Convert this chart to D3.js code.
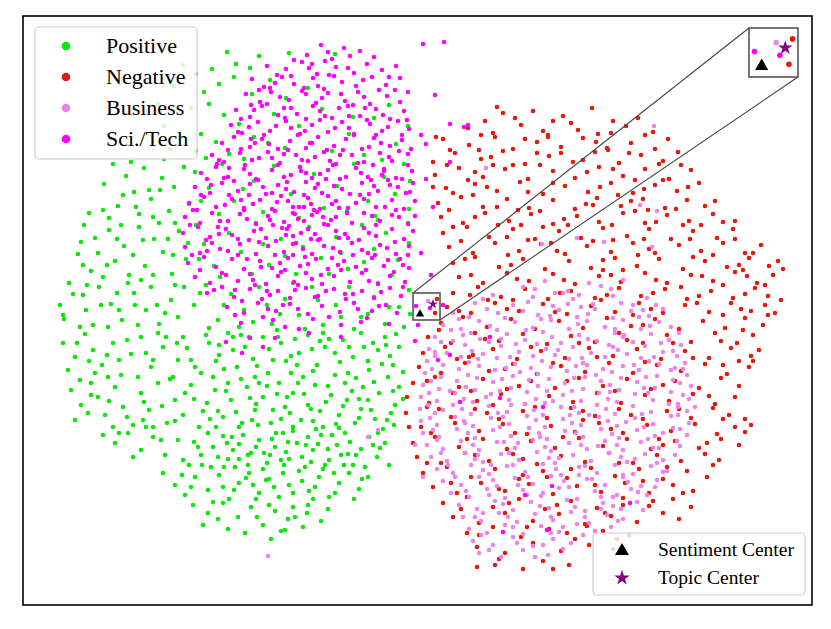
<!DOCTYPE html>
<html>
<head>
<meta charset="utf-8">
<script src="https://cdn.jsdelivr.net/npm/d3@7"></script>
<style>
  body { margin: 0; background: #fff; }
  text { font-family: "Liberation Serif", "Times New Roman", serif; }
</style>
</head>
<body>
<svg id="chart" width="831" height="629"></svg>
<script>

// 2-D embedding of the sentences, [x, y] per point
const positive = [
  [204,553],[236,549],[213,541],[189,536],[266,552],[312,551],[227,537],[160,540],[151,519],[168,497],[141,479],[157,466],[173,454],[135,501],[147,456],
  [196,521],[229,511],[181,513],[247,525],[263,507],[211,528],[173,531],[285,517],
  [186,501],[201,490],[216,481],[178,471],[193,463],[231,468],[206,451],[251,491],[276,479],[299,496],[326,471],[351,487],[373,461],[385,479],[341,450],[262,457],[183,447],[221,446],[309,454],[366,500],[245,462],[330,488],
  [90,441],[103,429],[81,421],[121,437],[139,427],[111,413],[95,399],[128,406],[151,418],[161,438],[146,394],[86,387],[116,391],[166,401],[141,446],[100,410],[130,388],
  [172,433],[186,417],[199,441],[211,404],[231,424],[251,439],[268,411],[291,431],[314,419],[331,441],[345,404],[361,428],[372,411],[381,441],[352,389],[301,397],[240,393],[196,391],[178,404],[386,396],[324,394],[276,387],[220,416],[359,445],[387,424],
  [61,380],[72,367],[55,351],[86,375],[101,359],[92,344],[116,378],[131,366],[122,339],[140,353],[156,374],[163,346],[68,334],[106,330],[149,331],[80,328],[136,382],[58,363],[110,350],[165,362],[75,352],[94,366],
  [173,380],[181,361],[191,339],[206,372],[218,353],[233,382],[246,340],[258,366],[273,331],[286,378],[298,347],[313,368],[325,336],[339,380],[351,356],[363,372],[375,345],[386,362],[369,330],[341,343],[306,331],[262,349],[229,331],[197,328],[176,346],[385,382],[355,385],[318,352],[280,358],[240,361],
  [37,300],[41,286],[50,311],[63,295],[76,318],[88,301],[99,285],[111,312],[123,295],[136,281],[148,305],[161,318],[155,288],[70,280],[46,322],[105,322],[128,318],[85,278],[115,280],[142,292],[60,310],[94,312],
  [171,300],[183,320],[195,285],[208,311],[221,295],[236,318],[249,281],[262,306],[276,290],[289,318],[300,280],[313,300],[326,318],[338,288],[351,308],[362,281],[376,298],[386,315],[381,278],[355,322],[331,276],[295,305],[270,322],[244,300],[216,278],[186,277],[177,312],[366,298],[318,288],[282,276],[257,291],[230,283],[201,300],[345,291],[387,291],
  [40,262],[52,248],[45,235],[62,271],[70,255],[79,240],[90,262],[98,230],[108,251],[118,268],[128,238],[140,258],[150,228],[160,268],[168,245],[178,232],[186,262],[196,250],[205,272],[214,238],[222,258],[232,228],[240,268],[250,245],[258,262],[268,232],[276,252],[285,270],[294,240],[302,258],[312,230],[320,265],[330,248],[338,272],[346,235],[355,255],[362,268],[370,240],[376,258],[115,228],[85,228],[135,272],[190,228],[245,232],[300,272],[325,232],[365,228],[57,225],[210,255],[280,228],[350,262],[230,246],[155,245],
  [183,270],[201,236],[226,268],[263,244],[289,256],[317,243],[341,258],[359,241],[373,271],[272,266],[246,256],[164,257],[123,252],
  [48,215],[58,200],[52,185],[68,222],[75,208],[82,190],[92,218],[100,198],[110,180],[118,212],[126,195],[135,222],[144,182],[152,205],[160,190],[168,220],[176,178],[184,202],[192,215],[200,188],[208,205],[216,178],[224,218],[232,195],[240,208],[248,182],[256,222],[262,198],[270,212],[278,185],[285,200],[292,220],[300,178],[308,210],[316,190],[324,205],[332,182],[340,218],[348,195],[356,212],[364,185],[372,200],[376,218],[90,178],[130,178],[205,222],[250,195],[290,184],[322,222],[360,176],[235,180],[195,194],[65,192],[270,178],[345,205],
  [213,193],[227,207],[244,219],[258,186],[281,211],[297,194],[313,181],[329,214],[352,186],[171,206],[187,186],[139,199],
  [80,170],[92,162],[105,172],[118,155],[130,168],[142,150],[155,165],[166,140],[175,158],[185,172],[195,148],[204,162],[212,138],[220,170],[228,152],[236,165],[244,142],[252,158],[260,172],[266,146],[274,162],[282,138],[290,155],[298,170],[306,145],[314,160],[322,172],[330,140],[338,156],[346,168],[354,148],[362,162],[240,136],[270,174],[300,136],[318,150],[258,145],[210,155],[188,138],[160,145],[110,148],[225,140],[285,168],[342,138],[366,140],
  [233,158],[249,166],[263,153],[279,148],[295,161],[309,170],[325,151],[216,146],[200,169],
  [140,132],[152,120],[162,110],[172,128],[185,115],[196,130],[206,106],[216,122],[226,132],[236,112],[246,126],[256,108],[266,120],[276,134],[286,114],[296,128],[306,108],[316,122],[326,132],[336,116],[345,128],[200,118],[260,132],[290,106],[230,120],
  [170,100],[185,92],[200,102],[215,88],[228,98],[240,80],[252,94],[262,75],[272,88],[285,100],[298,84],[305,96],[222,72],[258,74],[195,86],
  [210,268],[254,275],[297,264],[333,227],[367,249],[154,262],[193,244],[236,222],[274,240],[312,252],[180,194],[219,182],[264,208],[303,203],[338,196],[370,214],
  [205,146],[247,150],[288,143],[327,163],[357,157],[178,150],[223,127],[270,112],[311,132],[246,100],[284,92],[120,185],[96,245],[72,232],[60,340],[112,300],[130,330],[150,350],[80,395],[126,415],[108,443],
  [196,260],[218,270],[234,239],[255,268],[268,249],[290,234],[306,266],[326,258],[345,244],[363,260],[380,233],[172,238],[143,268],[130,245],[104,265],[84,250],[66,244],[54,262],
  [203,214],[218,226],[233,201],[254,211],[275,222],[288,196],[305,219],[320,199],[336,206],[351,223],[368,192],[380,206],[162,212],[147,226],[121,203],[104,188],[86,204],[68,210],
  [193,178],[209,168],[229,185],[253,172],[267,192],[293,176],[316,177],[336,187],[355,172],[371,180],[152,184],[138,165],[123,178],[96,172],[171,163],[190,158],[216,161],[241,152],[265,163],[283,160],[305,156],[333,150],[350,160],
  [159,130],[179,140],[201,138],[225,150],[243,125],[261,140],[279,124],[302,140],[321,140],[339,126],[168,118],[190,103],[211,115],[233,106],[251,118],[270,98],[292,118],[312,112],[331,106],[180,80],[205,76],[234,88],[265,86],[280,78],[248,66],
  [40,290],[57,278],[78,300],[96,295],[118,325],[134,300],[152,320],[64,320],[84,340],[98,380],[120,365],[145,366],[66,392],[113,398],[152,382],[137,415]
];

const negative = [
  [474,498],[510,494],[569,497],[492,487],[540,489],[615,487],
  [445,477],[470,472],[498,480],[520,474],[548,482],[575,471],[603,479],[630,473],[462,484],[590,484],[525,470],
  [413,468],[420,466],[446,460],[472,468],[490,456],[514,463],[538,458],[560,467],[584,457],[608,462],[632,456],[645,466],[456,455],[525,468],
  [410,443],[432,452],[458,446],[480,454],[502,441],[526,449],[550,443],[572,453],[596,442],[618,450],[640,444],[655,453],[470,440],[585,455],[538,452],
  [412,430],[436,437],[460,428],[482,436],[505,426],[530,434],[552,427],[576,438],[600,429],[622,436],[646,426],[668,435],[490,440],[612,425],[445,425],
  [410,418],[430,412],[452,421],[474,414],[497,423],[520,411],[542,419],[565,413],[588,422],[610,412],[632,420],[654,414],[676,422],[505,413],[595,410],[640,425],
  [415,402],[438,408],[460,398],[484,406],[506,397],[530,405],[552,396],[574,407],[598,399],[620,406],[642,397],[664,405],[682,399],[450,410],[570,400],[625,395],
  [418,388],[440,382],[462,392],[486,384],[508,391],[530,381],[554,389],[576,383],[600,392],[622,382],[644,390],[666,384],[690,391],[700,383],[495,395],[612,394],[545,380],
  [420,372],[444,378],[466,368],[490,376],[512,366],[536,374],[558,367],[580,377],[604,369],[626,376],[648,366],[670,374],[694,367],[710,376],[475,380],[590,365],[660,380],[520,378],
  [426,358],[450,352],[472,362],[496,354],[518,361],[542,351],[564,359],[588,353],[610,362],[632,352],[656,360],[678,354],[700,362],[722,352],[738,360],[505,365],[615,350],[690,350],
  [430,342],[452,348],[476,338],[500,346],[522,336],[546,344],[568,337],[592,347],[614,339],[636,346],[660,336],[682,344],[704,338],[726,347],[746,339],[755,344],[485,350],[600,335],
  [436,328],[460,322],[484,332],[506,324],[530,331],[552,321],[576,329],[598,323],[622,332],[644,322],[668,330],[690,324],[712,333],[734,322],[750,330],[580,335],[700,320],[720,335],
  [430,312],[455,318],[478,308],[502,316],[525,306],[548,314],[572,307],[596,317],[618,309],[642,316],[664,306],[688,314],[710,307],[732,317],[745,309],[465,305],[658,318],
  [424,298],[448,292],[472,302],[496,294],[520,301],[544,291],[568,299],[592,293],[616,302],[640,292],[662,300],[686,293],[708,302],[728,294],[742,300],[610,290],[700,290],
  [418,282],[440,288],[464,278],[488,286],[512,276],[536,284],[560,277],[584,287],[608,279],[632,286],[656,276],[680,284],[702,277],[722,287],[740,280],[745,290],
  [405,268],[428,262],[452,272],[476,264],[500,271],[524,261],[548,269],[572,263],[596,272],[620,262],[644,270],[668,263],[692,272],[714,262],[730,270],[720,275],
  [400,252],[422,258],[446,248],[470,256],[494,246],[518,254],[542,247],[566,257],[590,249],[614,256],[638,246],[662,254],[686,247],[708,257],[728,249],[736,255],
  [396,238],[418,232],[442,242],[466,234],[490,241],[514,231],[538,239],[562,233],[586,242],[610,232],[634,240],[658,234],[682,241],[704,231],[726,238],[730,244],
  [390,222],[412,228],[436,218],[460,226],[484,216],[508,224],[532,217],[556,227],[580,219],[604,226],[628,216],[652,224],[676,217],[698,227],[716,219],
  [384,208],[406,202],[430,212],[454,204],[478,211],[502,201],[526,209],[550,203],[574,212],[598,202],[622,210],[646,204],[670,211],[692,201],[712,208],
  [383,192],[404,198],[428,188],[452,196],[476,186],[500,194],[524,187],[548,197],[572,189],[596,196],[620,186],[644,194],[668,187],[690,197],[706,190],[722,186],
  [386,178],[408,172],[432,182],[456,174],[480,181],[504,171],[528,179],[552,173],[576,182],[600,172],[624,180],[648,174],[672,181],[694,171],[712,178],[722,173],
  [390,162],[412,168],[436,158],[460,166],[484,156],[508,164],[532,157],[556,167],[580,159],[604,166],[628,156],[652,164],[676,157],[698,166],[716,160],
  [394,148],[418,142],[442,152],[466,144],[490,151],[514,141],[538,149],[562,143],[586,152],[610,142],[634,150],[658,144],[682,151],[696,145],
  [400,132],[424,138],[448,128],[472,136],[496,126],[520,134],[544,127],[568,137],[592,129],[616,136],[640,126],[664,134],[684,128],
  [410,118],[434,112],[458,122],[482,114],[506,121],[530,111],[554,119],[578,113],[602,122],[626,112],[650,120],[670,114],
  [420,102],[444,108],[470,98],[496,106],[522,96],[548,104],[574,97],[600,107],[626,99],[650,106],[668,98],
  [430,88],[456,82],[482,92],[510,84],[536,91],[562,81],[588,89],[614,83],[640,92],[656,86],
  [444,72],[470,78],[498,68],[526,76],[552,66],[580,74],[606,70],[564,79],
  [454,58],[482,52],[510,62],[538,54],[566,60],[590,56],
  [454,38],[476,46],[520,44],[546,40],[500,36],
  [470,200],[560,185],[640,160],[500,130],[600,100],[450,250],[620,280],[700,240],
  [480,492],[530,484],[555,475],[588,472],[458,470],[502,466],[573,463],[622,470],[427,455],[468,448],[514,452],[560,445],[606,452],[636,441],[424,440],[452,433],[517,440],[564,433],[590,436],[658,440],
  [423,417],[464,418],[530,422],[577,418],[621,416],[665,418],[426,395],[474,398],[517,394],[563,401],[608,404],[653,396],[692,404],[430,378],[452,388],[498,380],[541,386],[589,380],[633,383],[678,380],[712,384],
  [438,364],[484,368],[528,362],[570,364],[621,366],[667,366],[712,366],[730,352],[442,346],[488,340],[534,354],[580,345],[626,356],[670,348],[716,340],[760,336],
  [448,330],[494,326],[541,325],[588,330],[633,325],[679,329],[724,329],[742,320],[447,310],[490,305],[537,312],[584,310],[630,312],[676,309],[722,311],[758,305],
  [436,294],[484,296],[532,293],[578,305],[628,296],[674,302],[718,296],[752,292],
  [416,275],[462,266],[508,258],[556,262],[604,265],[650,262],[698,264],[434,246],[482,236],[530,242],[574,248],[622,243],[670,247],[716,244],
  [404,224],[448,214],[496,219],[544,224],[592,214],[640,220],[686,209],[416,196],[464,192],[512,198],[560,194],[608,190],[656,196],[700,186],
  [398,178],[444,166],[492,172],[540,168],[588,176],[636,166],[684,162],[728,180],[404,142],[452,150],[500,146],[548,136],[596,142],[644,138],[690,140],
  [428,122],[476,116],[524,128],[572,120],[620,124],[660,112],[438,96],[486,102],[534,100],[582,92],[630,104],[456,70],[504,78],[544,72],[594,66],[472,40],[530,36],
  [412,292],[414,306]
];

const business = [
  [500,318],[522,324],[545,314],[566,322],[588,316],[600,325],[532,312],
  [452,302],[470,310],[490,300],[510,308],[530,299],[550,306],[570,301],[590,309],[610,300],[624,307],[540,312],
  [430,292],[446,288],[464,296],[482,287],[500,294],[518,286],[536,295],[554,288],[572,296],[590,287],[608,294],[626,289],[640,296],
  [420,280],[438,276],[456,284],[474,275],[492,283],[510,277],[528,285],[546,276],[564,284],[582,278],[600,285],[618,276],[636,283],[648,278],
  [412,268],[430,264],[448,272],[466,263],[484,271],[502,265],[520,273],[538,262],[556,270],[574,264],[592,272],[610,263],[628,271],[646,265],[656,272],
  [406,256],[424,252],[442,260],[460,251],[478,259],[496,253],[514,261],[532,250],[550,258],[568,252],[586,260],[604,251],[622,259],[640,253],[658,260],
  [404,244],[420,240],[438,248],[456,239],[474,247],[492,241],[510,249],[528,238],[546,246],[564,240],[582,248],[600,239],[618,247],[636,241],[654,249],[662,242],
  [402,232],[418,228],[436,236],[454,227],[472,235],[490,229],[508,237],[526,226],[544,234],[562,228],[580,236],[598,227],[616,235],[634,229],[652,237],[664,230],
  [400,220],[416,216],[434,224],[452,215],[470,223],[488,217],[506,225],[524,214],[542,222],[560,216],[578,224],[596,215],[614,223],[632,217],[650,225],[668,219],
  [398,208],[414,204],[432,212],[450,203],[468,211],[486,205],[504,213],[522,202],[540,210],[558,204],[576,212],[594,203],[612,211],[630,205],[648,213],[666,206],
  [397,196],[412,192],[430,200],[448,191],[466,199],[484,193],[502,201],[520,190],[538,198],[556,192],[574,200],[592,191],[610,199],[628,193],[646,201],[664,194],[672,198],
  [398,184],[414,180],[432,188],[450,179],[468,187],[486,181],[504,189],[522,178],[540,186],[558,180],[576,188],[594,179],[612,187],[630,181],[648,189],[666,182],
  [400,172],[416,168],[434,176],[452,167],[470,175],[488,169],[506,177],[524,166],[542,174],[560,168],[578,176],[596,167],[614,175],[632,169],[650,177],[664,170],
  [404,160],[420,156],[438,164],[456,155],[474,163],[492,157],[510,165],[528,154],[546,162],[564,156],[582,164],[600,155],[618,163],[636,157],[654,164],
  [408,148],[424,144],[442,152],[460,143],[478,151],[496,145],[514,153],[532,142],[550,150],[568,144],[586,152],[604,143],[622,151],[640,145],[652,150],
  [414,136],[430,132],[448,140],[466,131],[484,139],[502,133],[520,141],[538,130],[556,138],[574,132],[592,140],[610,131],[628,139],[644,134],
  [420,124],[438,120],[456,128],[474,119],[492,127],[510,121],[528,129],[546,118],[564,126],[582,120],[600,128],[618,119],[634,125],
  [428,112],[446,108],[464,116],[482,107],[500,115],[518,109],[536,117],[554,106],[572,114],[590,108],[608,116],[624,110],
  [436,100],[454,96],[472,104],[490,95],[508,103],[526,97],[544,105],[562,94],[580,102],[598,96],[614,103],
  [440,88],[458,84],[476,92],[494,83],[512,91],[530,85],[548,93],[566,82],[584,90],[600,86],
  [446,76],[464,72],[482,80],[500,71],[518,79],[536,73],[554,81],[572,74],[588,78],
  [450,64],[470,60],[490,68],[510,59],[530,66],[548,62],
  [456,52],[478,48],[500,55],[525,50],
  [440,270],[478,266],[515,290],[558,298],[600,268],[620,295],[455,246],[497,233],[535,255],[573,230],[611,240],[648,235],[427,214],[463,208],[515,219],[551,198],[587,220],[625,212],[660,210],
  [442,182],[480,188],[516,172],[566,190],[603,183],[640,172],[455,150],[495,162],[536,147],[575,159],[612,146],[470,125],[520,112],[556,130],[594,110],[632,118],[485,88],[540,78],[578,96],[505,128],
  [445,230],[590,258],[530,204],[488,200],[420,195],[655,190],[460,92],[520,60],[468,140],[600,130],[560,242],
  [512,316],[556,310],[578,319],[460,306],[505,303],[545,301],[598,302],[436,286],[475,292],[527,289],[565,291],[616,288],[633,300],[428,275],[467,279],[503,275],[555,281],[592,276],[627,279],
  [418,263],[457,266],[493,261],[529,268],[565,266],[601,270],[638,262],[412,249],[449,254],[487,248],[523,256],[559,247],[595,255],[631,248],[650,254],
  [409,236],[446,243],[483,237],[519,244],[553,239],[589,233],[626,244],[660,236],[408,224],[443,218],[479,226],[515,231],[551,227],[587,213],[623,228],[657,222],
  [406,212],[441,206],[477,214],[513,206],[549,214],[585,206],[621,217],[655,201],[405,200],[439,196],[475,192],[511,195],[547,190],[583,196],[619,191],[655,198],
  [407,187],[441,184],[477,178],[513,185],[549,182],[585,184],[621,178],[657,176],[410,175],[445,172],[481,163],[517,168],[553,172],[589,171],[625,166],[657,159],
  [414,165],[450,160],[486,152],[522,158],[558,160],[594,160],[630,157],[418,152],[452,146],[490,140],[526,147],[562,139],[598,148],[634,142],
  [425,140],[460,135],[495,120],[533,136],[569,126],[605,123],[640,133],[432,128],[466,110],[504,110],[541,124],[578,108],[615,113],
  [443,114],[480,101],[517,99],[552,98],[590,99],[620,95],[452,88],[490,78],[528,88],[562,88],[595,84],[458,70],[494,62],[528,72],[560,70],[466,55],[512,48],[540,56],
  [345,168],[355,175],[392,160],[400,128],[412,253],[245,49],[631,479],[463,437],[634,394],[617,400],[581,363],[554,367],[629,358],[519,361],
  [405,304]
];

const scitech = [
  [298,560],[321,557],[337,554],[284,550],[351,548],[309,546],[271,545],[327,549],
  [244,539],[263,536],[279,543],[294,531],[313,538],[331,532],[344,541],[359,535],[373,539],[254,530],[302,544],[286,537],
  [229,526],[241,518],[259,528],[271,521],[290,527],[301,516],[319,523],[333,519],[349,528],[363,520],[377,527],[236,515],[311,529],[356,515],[281,517],
  [223,511],[237,503],[248,513],[266,505],[279,514],[293,502],[305,512],[322,504],[335,513],[347,501],[364,509],[377,503],[385,513],[244,501],[299,507],[330,500],[257,508],
  [213,495],[227,488],[239,499],[255,490],[268,497],[283,486],[297,494],[309,487],[325,499],[337,489],[353,496],[367,486],[381,494],[218,486],[274,491],[344,485],[316,497],[290,499],
  [208,480],[219,472],[235,483],[247,474],[263,484],[277,471],[289,480],[305,473],[319,483],[331,471],[347,481],[359,474],[375,484],[386,476],[241,470],[297,485],[353,470],[268,477],[226,478],
  [199,462],[211,468],[227,458],[239,466],[255,456],[267,464],[283,457],[295,468],[311,459],[323,466],[339,456],[351,467],[367,459],[379,465],[388,456],[218,456],[275,470],[331,470],[304,455],[246,461],
  [189,450],[201,443],[217,452],[229,445],[245,453],[257,442],[273,450],[285,444],[301,453],[313,441],[329,450],[341,443],[357,452],[369,444],[385,451],[194,441],[265,455],[320,455],[350,440],[236,447],[292,448],
  [178,432],[193,438],[205,428],[221,436],[233,426],[249,435],[261,428],[277,438],[289,427],[305,435],[317,426],[333,437],[345,428],[361,436],[373,427],[389,434],[184,426],[255,440],[310,440],[365,425],[283,432],[227,431],[297,431],
  [172,418],[187,412],[199,422],[215,414],[227,421],[243,411],[255,420],[271,413],[283,423],[299,412],[311,419],[327,411],[339,422],[355,414],[367,420],[383,412],[390,422],[235,425],[292,417],[348,425],[206,410],[263,416],[319,416],
  [166,402],[181,408],[193,398],[209,406],[221,397],[237,405],[249,396],[265,404],[276,398],[285,407],[297,396],[313,404],[325,397],[341,406],[353,398],[369,405],[381,396],[392,404],[270,392],[288,401],[258,409],[305,409],[230,401],[333,402],[291,395],
  [162,388],[177,382],[189,392],[205,384],[217,391],[233,381],[245,389],[261,383],[272,391],[281,384],[289,390],[301,381],[313,388],[329,382],[341,392],[357,384],[369,390],[385,381],[392,389],[266,379],[294,393],[275,386],[252,394],[308,385],[224,386],
  [160,372],[175,378],[187,368],[203,376],[215,366],[231,374],[243,367],[259,377],[270,369],[285,376],[297,366],[313,374],[325,367],[341,377],[353,369],[369,376],[381,366],[390,374],[250,380],[305,380],[336,365],[278,372],[263,370],[292,371],
  [162,358],[177,352],[189,362],[205,354],[217,361],[233,351],[245,359],[261,353],[273,362],[289,351],[301,359],[317,353],[329,362],[345,352],[357,360],[373,351],[386,359],[226,365],[295,365],[352,350],[280,356],[253,364],
  [165,342],[181,348],[193,338],[209,346],[221,336],[237,344],[249,337],[265,347],[277,339],[293,346],[305,336],[321,344],[333,338],[349,347],[361,339],[377,346],[386,337],[215,350],[270,350],[330,350],[285,341],
  [172,328],[187,322],[199,332],[215,324],[227,331],[243,321],[255,329],[271,323],[283,332],[299,321],[311,329],[327,323],[339,332],[355,321],[367,329],[382,323],[262,335],[318,335],
  [184,312],[199,318],[211,308],[227,316],[239,306],[255,314],[267,307],[283,317],[295,309],[311,316],[323,306],[339,314],[351,307],[367,317],[378,309],[275,320],[232,320],
  [204,298],[221,292],[235,302],[253,294],[267,301],[285,291],[299,299],[317,293],[331,302],[349,294],[363,300],[374,292],
  [218,282],[240,288],[262,278],[290,286],[318,280],[344,287],[366,281],[276,276],
  [227,267],[240,258],[219,252],[252,267],[286,272],[318,268],[203,263],
  [252,522],[318,511],[342,497],[262,487],[312,477],[228,466],[358,462],[279,445],[206,437],[338,432],[264,423],[303,426],[375,418],[218,405],[346,411],[281,398],[197,384],[238,376],[322,371],[353,380],
  [270,361],[309,347],[184,354],[238,338],[298,330],[346,324],[212,315],[260,300],[322,311],[196,371],[373,395],[229,445],[287,462],[326,489],[366,448],[249,412],[316,397],[257,342],[364,357],[201,427],
  [283,511],[306,530],[340,525],[228,500],[379,470],[174,395],[380,340],[244,314],[335,296],[361,434],
  [305,553],[289,541],[268,529],[325,537],[366,528],[247,517],[295,519],[341,508],[372,515],[231,495],[261,497],[302,489],[360,490],[384,485],[215,473],[253,479],[282,474],[326,477],[365,478],
  [205,455],[232,462],[261,451],[289,462],[317,450],[346,458],[376,454],[196,445],[222,440],[249,447],[278,434],[307,444],[335,442],[359,430],[385,440],[188,420],[211,424],[240,418],[268,430],[295,421],[323,428],[351,419],[379,426],
  [178,410],[202,400],[226,410],[254,403],[281,410],[309,401],[337,410],[362,398],[387,413],[170,395],[195,378],[221,395],[247,385],[270,398],[300,388],[324,392],[349,389],[376,388],
  [167,380],[183,365],[209,370],[236,363],[264,376],[288,366],[316,367],[346,372],[372,363],[169,350],[197,356],[224,346],[252,350],[282,348],[310,357],[339,355],[365,345],[385,350],
  [177,335],[203,330],[230,325],[258,333],[289,326],[315,340],[343,335],[371,333],[191,315],[219,304],[247,310],[272,315],[303,314],[330,311],[358,313],[212,290],[245,296],[275,296],[306,288],[338,283],[356,299],[250,285],[380,318],[292,308],
  [400,561],[421,563],[427,481],[441,478],[445,480],[403,461],[403,426],[427,443],[410,398],[398,352],[408,330],[420,300],[395,280],[392,264],[415,245],[427,250],[467,268],[477,207],[520,198],[529,119],[502,110],[524,75],[480,73],[607,102],[437,203],[398,470],[412,510],
  [393,299],[407,297]
];

const labels = ["Positive", "Negative", "Business", "Sci./Tech"];
const colors = ["#0ae60a", "#e6190f", "#ee82ee", "#ff00ff"];
const series = [positive, negative, business, scitech];

// the two class centres
const sentimentCenter = [397, 291];
const topicCenter     = [410, 301];

// region magnified in the inset
const zoomX = [390, 417];
const zoomY = [285, 312];

const svg = d3.select("#chart");

const frame = {left: 23, top: 16, right: 812, bottom: 605};
const x = d3.scaleLinear().domain([0, 789]).range([frame.left, frame.right]);
const y = d3.scaleLinear().domain([0, 589]).range([frame.bottom, frame.top]);

const inset = {left: 749, top: 28, right: 798, bottom: 77};
const xi = d3.scaleLinear().domain(zoomX).range([inset.left, inset.right]);
const yi = d3.scaleLinear().domain(zoomY).range([inset.bottom, inset.top]);

svg.append("rect").attr("width", 831).attr("height", 629).attr("fill", "#fff");

const defs = svg.append("defs");
defs.append("clipPath").attr("id", "clip-main").append("rect")
  .attr("x", frame.left).attr("y", frame.top)
  .attr("width", frame.right - frame.left).attr("height", frame.bottom - frame.top);
defs.append("clipPath").attr("id", "clip-inset").append("rect")
  .attr("x", inset.left).attr("y", inset.top)
  .attr("width", inset.right - inset.left).attr("height", inset.bottom - inset.top);

function drawPoints(g, sx, sy, r, triSize, starSize) {
  series.forEach(function(pts, i) {
    g.append("g").selectAll("circle")
      .data(pts)
      .enter()
      .append("circle")
      .attr("cx", d => sx(d[0]))
      .attr("cy", d => sy(d[1]))
      .attr("r", r)
      .attr("fill", colors[i]);
  });
  g.append("path")
    .attr("d", d3.symbol().type(d3.symbolTriangle).size(triSize)())
    .attr("transform", `translate(${sx(sentimentCenter[0])},${sy(sentimentCenter[1])})`)
    .attr("fill", "#000");
  g.append("path")
    .attr("d", d3.symbol().type(d3.symbolStar).size(starSize)())
    .attr("transform", `translate(${sx(topicCenter[0])},${sy(topicCenter[1])})`)
    .attr("fill", "#800080");
}

const main = svg.append("g").attr("clip-path", "url(#clip-main)");
drawPoints(main, x, y, 2.3, 30, 30);

// zoomed box and connector lines
svg.append("line")
  .attr("x1", x(zoomX[0])).attr("y1", y(zoomY[1]))
  .attr("x2", inset.left).attr("y2", inset.top)
  .attr("stroke", "#444").attr("stroke-width", 1.1);
svg.append("line")
  .attr("x1", x(zoomX[1])).attr("y1", y(zoomY[0]))
  .attr("x2", inset.right).attr("y2", inset.bottom)
  .attr("stroke", "#444").attr("stroke-width", 1.1);
svg.append("rect")
  .attr("x", x(zoomX[0])).attr("y", y(zoomY[1]))
  .attr("width", x(zoomX[1]) - x(zoomX[0])).attr("height", y(zoomY[0]) - y(zoomY[1]))
  .attr("fill", "none").attr("stroke", "#555").attr("stroke-width", 1.6);

// inset axes
svg.append("rect")
  .attr("x", inset.left).attr("y", inset.top)
  .attr("width", inset.right - inset.left).attr("height", inset.bottom - inset.top)
  .attr("fill", "#fff");
const ins = svg.append("g").attr("clip-path", "url(#clip-inset)");
drawPoints(ins, xi, yi, 2.8, 75, 65);
svg.append("rect")
  .attr("x", inset.left).attr("y", inset.top)
  .attr("width", inset.right - inset.left).attr("height", inset.bottom - inset.top)
  .attr("fill", "none").attr("stroke", "#555").attr("stroke-width", 1.6);

// outer frame
svg.append("rect")
  .attr("x", frame.left).attr("y", frame.top)
  .attr("width", frame.right - frame.left).attr("height", frame.bottom - frame.top)
  .attr("fill", "none").attr("stroke", "#000").attr("stroke-width", 1.6);

// class legend
const leg1 = svg.append("g");
leg1.append("rect")
  .attr("x", 35).attr("y", 27).attr("width", 162).attr("height", 132).attr("rx", 4)
  .attr("fill", "#fff").attr("fill-opacity", 0.8)
  .attr("stroke", "#cccccc").attr("stroke-width", 1.2);
labels.forEach(function(name, i) {
  const cy = 46 + i * 31;
  leg1.append("circle").attr("cx", 66).attr("cy", cy).attr("r", 4.3).attr("fill", colors[i]);
  leg1.append("text").attr("x", 106).attr("y", cy + 7)
    .attr("font-size", 22).attr("fill", "#000").text(name);
});

// centre legend
const leg2 = svg.append("g");
leg2.append("rect")
  .attr("x", 593).attr("y", 533).attr("width", 212).attr("height", 62).attr("rx", 4)
  .attr("fill", "#fff").attr("fill-opacity", 0.8)
  .attr("stroke", "#cccccc").attr("stroke-width", 1.2);
leg2.append("path")
  .attr("d", d3.symbol().type(d3.symbolTriangle).size(85)())
  .attr("transform", "translate(622,551)").attr("fill", "#000");
leg2.append("text").attr("x", 658).attr("y", 556)
  .attr("font-size", 19.5).attr("fill", "#000").text("Sentiment Center");
leg2.append("path")
  .attr("d", d3.symbol().type(d3.symbolStar).size(75)())
  .attr("transform", "translate(622,578)").attr("fill", "#800080");
leg2.append("text").attr("x", 658).attr("y", 584)
  .attr("font-size", 19.5).attr("fill", "#000").text("Topic Center");

</script>
</body>
</html>
